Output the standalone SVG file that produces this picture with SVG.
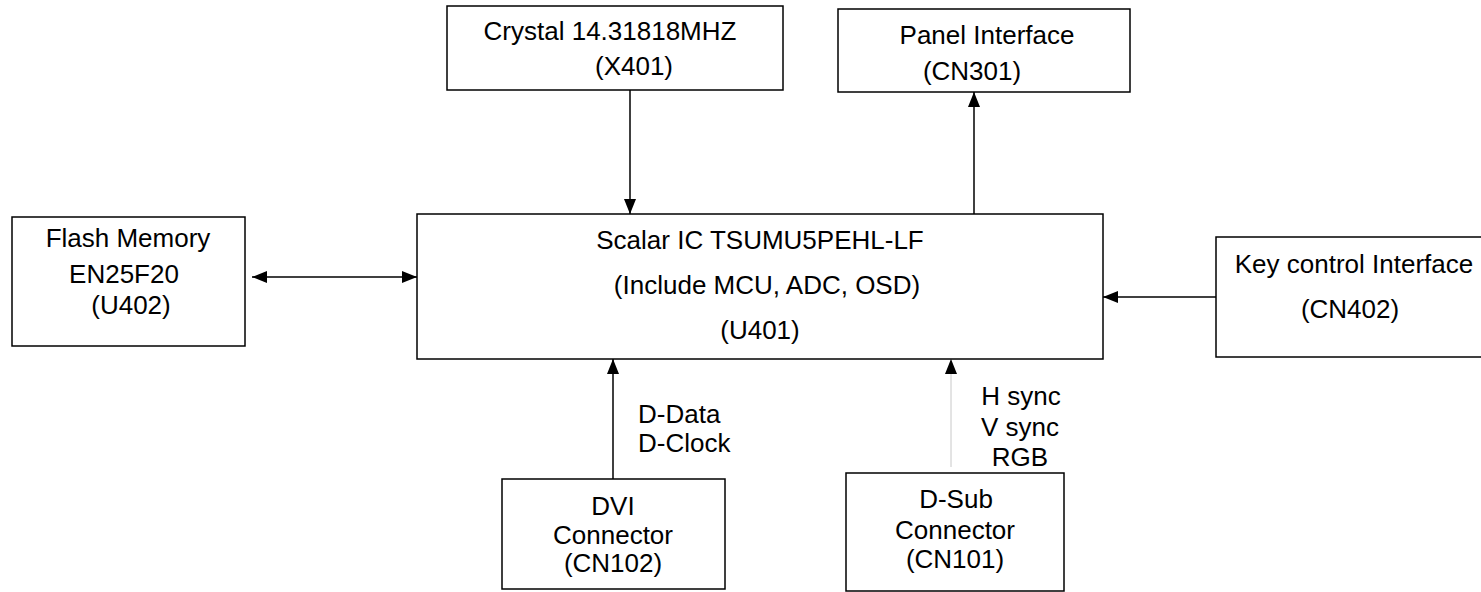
<svg xmlns="http://www.w3.org/2000/svg" width="1481" height="592" viewBox="0 0 1481 592">
<style>
.box{fill:#fff;stroke:#000;stroke-width:1.5}
text{font-family:"Liberation Sans",Arial,sans-serif;font-size:26px;fill:#000}
.c{text-anchor:middle}
.ln{stroke:#000;stroke-width:1.5;fill:none}
.gl{stroke:#c8c8c8;stroke-width:1;fill:none}
</style>
<defs>
<marker id="ah" markerUnits="userSpaceOnUse" markerWidth="15" markerHeight="12" refX="15" refY="6" orient="auto-start-reverse">
<path d="M0,0 L15,6 L0,12 z" fill="#000"/>
</marker>
</defs>
<rect width="1481" height="592" fill="#fff"/>
<g id="connectors">
<path class="ln" d="M630,90 L630,214" marker-end="url(#ah)"/>
<path class="ln" d="M974,214 L974,92" marker-end="url(#ah)"/>
<path class="ln" d="M252,277 L417,277" marker-start="url(#ah)" marker-end="url(#ah)"/>
<path class="ln" d="M1216,297 L1103,297" marker-end="url(#ah)"/>
<path class="ln" d="M613,479 L613,359" marker-end="url(#ah)"/>
<path class="gl" d="M951,467 L951,359" marker-end="url(#ah)"/>
</g>
<g id="crystal">
<rect class="box" x="447" y="6" width="336" height="84"/>
<text class="c" x="610" y="40">Crystal 14.31818MHZ</text>
<text class="c" x="634" y="75">(X401)</text>
</g>
<g id="panel">
<rect class="box" x="838" y="9" width="292" height="83"/>
<text class="c" x="987" y="44">Panel Interface</text>
<text class="c" x="972" y="80">(CN301)</text>
</g>
<g id="flash">
<rect class="box" x="12" y="217" width="233" height="129"/>
<text class="c" x="128" y="247">Flash Memory</text>
<text class="c" x="124" y="283">EN25F20</text>
<text class="c" x="131" y="314">(U402)</text>
</g>
<g id="scalar">
<rect class="box" x="417" y="214" width="686" height="145"/>
<text class="c" x="760" y="249">Scalar IC TSUMU5PEHL-LF</text>
<text class="c" x="767" y="294">(Include MCU, ADC, OSD)</text>
<text class="c" x="760" y="339">(U401)</text>
</g>
<g id="key">
<rect class="box" x="1216" y="237" width="270" height="120"/>
<text class="c" x="1354" y="273">Key control Interface</text>
<text class="c" x="1350" y="318">(CN402)</text>
</g>
<g id="dvi-label">
<text x="638" y="423">D-Data</text>
<text x="638" y="452">D-Clock</text>
</g>
<g id="dsub-label">
<text class="c" x="1021" y="405">H sync</text>
<text class="c" x="1020" y="436">V sync</text>
<text class="c" x="1020" y="466">RGB</text>
</g>
<g id="dvi">
<rect class="box" x="502" y="479" width="223" height="110"/>
<text class="c" x="613" y="515">DVI</text>
<text class="c" x="613" y="544">Connector</text>
<text class="c" x="613" y="572">(CN102)</text>
</g>
<g id="dsub">
<rect class="box" x="846" y="473" width="218" height="118"/>
<text class="c" x="956" y="508">D-Sub</text>
<text class="c" x="955" y="539">Connector</text>
<text class="c" x="955" y="568">(CN101)</text>
</g>
</svg>
